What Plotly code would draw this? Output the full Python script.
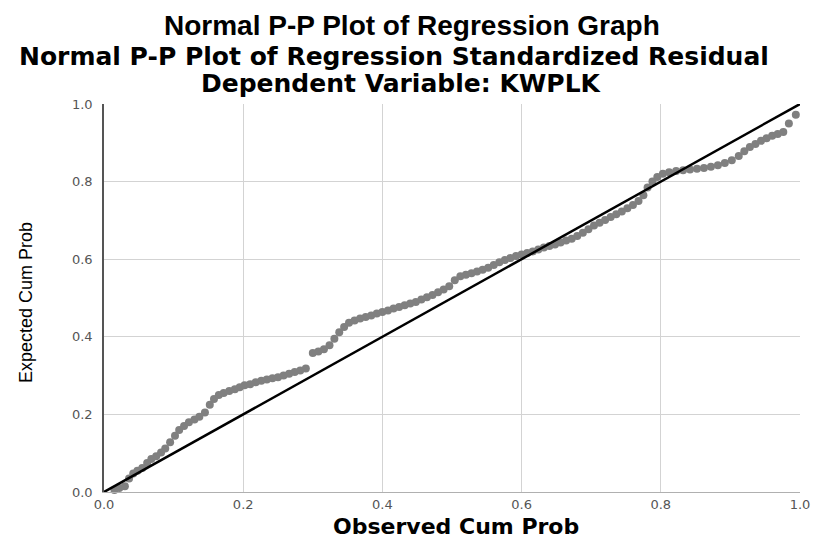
import plotly.graph_objects as go

observed_cum_prob = [
    0.015, 0.022, 0.030, 0.036, 0.042, 0.048, 0.055, 0.062, 0.068, 0.075,
    0.082, 0.088, 0.095, 0.102, 0.108, 0.115, 0.122, 0.130, 0.137, 0.145,
    0.152, 0.158, 0.165, 0.172, 0.180, 0.188, 0.195, 0.202, 0.210, 0.218,
    0.226, 0.234, 0.242, 0.250, 0.258, 0.266, 0.274, 0.282, 0.290, 0.300,
    0.308, 0.316, 0.324, 0.331, 0.338, 0.345, 0.352, 0.360, 0.368, 0.376,
    0.384, 0.392, 0.400, 0.408, 0.416, 0.424, 0.432, 0.440, 0.448, 0.456,
    0.464, 0.472, 0.480, 0.488, 0.496, 0.504, 0.512, 0.520, 0.528, 0.536,
    0.544, 0.552, 0.560, 0.568, 0.576, 0.584, 0.592, 0.600, 0.608, 0.616,
    0.624, 0.632, 0.640, 0.648, 0.656, 0.664, 0.672, 0.680, 0.688, 0.696,
    0.704, 0.712, 0.720, 0.728, 0.736, 0.744, 0.752, 0.760, 0.768, 0.775,
    0.781, 0.788, 0.795, 0.803, 0.812, 0.822, 0.832, 0.842, 0.852, 0.862,
    0.872, 0.882, 0.892, 0.902, 0.912, 0.920, 0.928, 0.936, 0.944, 0.952,
    0.960, 0.968, 0.976, 0.984, 0.994,
]
expected_cum_prob = [
    0.005, 0.010, 0.015, 0.035, 0.048, 0.055, 0.062, 0.075, 0.085, 0.092,
    0.102, 0.112, 0.128, 0.145, 0.160, 0.170, 0.180, 0.187, 0.194, 0.205,
    0.225, 0.240, 0.250, 0.255, 0.260, 0.265, 0.270, 0.275, 0.278, 0.283,
    0.287, 0.290, 0.293, 0.296, 0.300, 0.305, 0.309, 0.313, 0.318, 0.358,
    0.362, 0.368, 0.378, 0.395, 0.412, 0.425, 0.436, 0.442, 0.447, 0.451,
    0.455, 0.460, 0.464, 0.468, 0.473, 0.477, 0.481, 0.486, 0.490, 0.496,
    0.502, 0.508, 0.515, 0.522, 0.530, 0.546, 0.556, 0.560, 0.564, 0.568,
    0.573, 0.578, 0.585, 0.592, 0.598, 0.603, 0.608, 0.612, 0.616, 0.620,
    0.625, 0.630, 0.634, 0.638, 0.643, 0.648, 0.653, 0.660, 0.668, 0.677,
    0.687, 0.694, 0.701, 0.709, 0.716, 0.723, 0.731, 0.740, 0.750, 0.765,
    0.785, 0.800, 0.812, 0.820, 0.824, 0.827, 0.829, 0.831, 0.833, 0.835,
    0.838, 0.842, 0.848, 0.855, 0.866, 0.878, 0.889, 0.897, 0.905, 0.912,
    0.918, 0.923, 0.928, 0.950, 0.972,
]
reference_line = [0.0, 1.0]
tick_values = [0.0, 0.2, 0.4, 0.6, 0.8, 1.0]
tick_labels = ["0.0", "0.2", "0.4", "0.6", "0.8", "1.0"]

# The page body adds an 8px margin on every side, so the figure is made
# 16px smaller than the window and placed 8px in; work in window pixels.
OFF = 8
W, H = 825 - 2 * OFF, 546 - 2 * OFF
L, T = 104 - OFF, 104 - OFF
R = W - (810 - OFF)
B = H - (492 - OFF)
plot_w = W - L - R
plot_h = H - T - B


def px_x(px):
    return (px - OFF - L) / plot_w


def px_y(py):
    return (H - B - (py - OFF)) / plot_h


fig = go.Figure()
fig.add_trace(go.Scatter(
    x=observed_cum_prob, y=expected_cum_prob, mode="markers",
    marker=dict(color="#808080", size=8, line=dict(width=0)),
    showlegend=False, cliponaxis=False,
))
fig.add_trace(go.Scatter(
    x=reference_line, y=reference_line, mode="lines",
    line=dict(color="black", width=2.5), showlegend=False, cliponaxis=False,
))

fig.update_layout(
    width=W, height=H,
    paper_bgcolor="white", plot_bgcolor="white",
    margin=dict(l=L, r=R, t=T, b=B, pad=0),
    font=dict(family="DejaVu Sans", color="black"),
    xaxis=dict(
        range=[0, 1], tickvals=tick_values, ticktext=tick_labels,
        showgrid=True, gridcolor="#d3d3d3", gridwidth=1, zeroline=False,
        showline=True, linecolor="#b0b0b0", linewidth=1,
        ticks="", ticklen=0, ticklabeloverflow="allow",
        tickfont=dict(family="DejaVu Sans", size=13, color="#555555"),
    ),
    yaxis=dict(
        range=[0, 1], tickvals=tick_values, ticktext=tick_labels,
        showgrid=True, gridcolor="#d3d3d3", gridwidth=1, zeroline=False,
        showline=True, linecolor="#555555", linewidth=1.5,
        ticks="outside", ticklen=7, tickcolor="white",
        tickfont=dict(family="DejaVu Sans", size=13, color="#555555"),
    ),
    annotations=[
        dict(text="<b>Normal P-P Plot of Regression Graph</b>",
             x=px_x(416), y=px_y(25), xref="paper", yref="paper",
             xanchor="center", yanchor="middle", showarrow=False, borderpad=0,
             font=dict(family="Liberation Sans", size=28, color="black")),
        dict(text="<b>Normal P-P Plot of Regression Standardized Residual</b>",
             x=px_x(398), y=px_y(56), xref="paper", yref="paper",
             xanchor="center", yanchor="middle", showarrow=False, borderpad=0,
             font=dict(family="DejaVu Sans", size=25, color="black")),
        dict(text="<b>Dependent Variable: KWPLK</b>",
             x=px_x(406), y=px_y(84), xref="paper", yref="paper",
             xanchor="center", yanchor="middle", showarrow=False, borderpad=0,
             font=dict(family="DejaVu Sans", size=25, color="black")),
        dict(text="<b>Observed Cum Prob</b>",
             x=px_x(461), y=px_y(526), xref="paper", yref="paper",
             xanchor="center", yanchor="middle", showarrow=False, borderpad=0,
             font=dict(family="DejaVu Sans", size=22, color="black")),
        dict(text="Expected Cum Prob", textangle=-90,
             x=px_x(25), y=px_y(303), xref="paper", yref="paper",
             xanchor="center", yanchor="middle", showarrow=False, borderpad=0,
             font=dict(family="Liberation Sans", size=18, color="black")),
    ],
)

fig.write_html("out.html")
